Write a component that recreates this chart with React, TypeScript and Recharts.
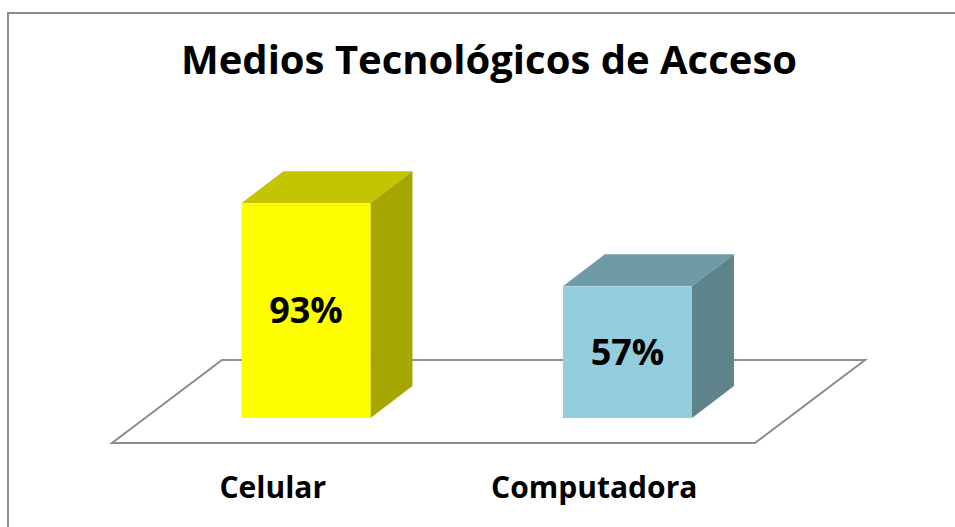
import { BarChart, Bar, XAxis, YAxis, ReferenceLine, LabelList } from "recharts";

const categories = ["Celular", "Computadora"];
const percentages = [93, 57];
const frontColors = ["#FFFF00", "#93CDDD"];
const topColors = ["#C4C400", "#6F9BA6"];
const sideColors = ["#A6A600", "#5E848A"];

const data = categories.map((name, i) => ({
  name,
  value: percentages[i],
  front: frontColors[i],
  top: topColors[i],
  side: sideColors[i],
}));

// fake 3d: how far the floor / bar depth goes back
const FRONT_DX = 33;
const FRONT_DY = 25;
const FLOOR_DX = 110;
const FLOOR_DY = 83;
const BAR_DX = 42;
const BAR_DY = 32;

const font = "'Open Sans', sans-serif";

function Bar3D(props: any) {
  const { x, y, width, height, payload } = props;
  const x2 = x + width;
  const y2 = y + height;
  return (
    <g>
      <polygon
        points={`${x},${y} ${x + BAR_DX},${y - BAR_DY} ${x2 + BAR_DX},${y - BAR_DY} ${x2},${y}`}
        fill={payload.top}
      />
      <polygon
        points={`${x2},${y} ${x2 + BAR_DX},${y - BAR_DY} ${x2 + BAR_DX},${y2 - BAR_DY} ${x2},${y2}`}
        fill={payload.side}
      />
      <rect x={x} y={y} width={width} height={height} fill={payload.front} />
    </g>
  );
}

function Floor(props: any) {
  const { x1, x2, y1 } = props;
  const fy = y1 + FRONT_DY;
  const lx = x1 - FRONT_DX;
  const rx = x2 - FRONT_DX;
  return (
    <polygon
      points={`${lx},${fy} ${rx},${fy} ${rx + FLOOR_DX},${fy - FLOOR_DY} ${lx + FLOOR_DX},${fy - FLOOR_DY}`}
      fill="#fff"
      stroke="#8c8c8c"
      strokeWidth={2}
    />
  );
}

function CategoryTick(props: any) {
  const { x, y, payload } = props;
  return (
    <text
      x={x - FRONT_DX}
      y={y + 72}
      textAnchor="middle"
      fontFamily={font}
      fontWeight="bold"
      fontSize={30}
      fill="#000"
    >
      {payload.value}
    </text>
  );
}

export default function App() {
  return (
    <div
      style={{
        position: "absolute",
        left: 0,
        top: 0,
        width: 955,
        height: 527,
        overflow: "hidden",
        background: "#fff",
      }}
    >
      <div
        style={{
          position: "absolute",
          left: 7,
          top: 12,
          width: 1000,
          height: 600,
          border: "2px solid #8c8c8c",
        }}
      />
      <div style={{ position: "absolute", left: 0, top: 0 }}>
        <BarChart
          width={955}
          height={527}
          data={data}
          margin={{ top: 187, right: 167, bottom: 79, left: 145 }}
          barCategoryGap="30%"
        >
          <text
            x={489}
            y={74}
            textAnchor="middle"
            fontFamily={font}
            fontWeight="bold"
            fontSize={40}
            fill="#000"
          >
            Medios Tecnológicos de Acceso
          </text>
          <ReferenceLine y={0} zIndex={-1} shape={<Floor />} />
          <XAxis
            dataKey="name"
            axisLine={false}
            tickLine={false}
            height={30}
            tick={<CategoryTick />}
          />
          <YAxis hide domain={[0, 100]} />
          <Bar dataKey="value" shape={<Bar3D />} isAnimationActive={false}>
            <LabelList
              dataKey="value"
              position="center"
              formatter={(v: any) => `${v}%`}
              style={{ fontFamily: font, fontWeight: "bold", fontSize: 36, fill: "#000" }}
            />
          </Bar>
        </BarChart>
      </div>
    </div>
  );
}
